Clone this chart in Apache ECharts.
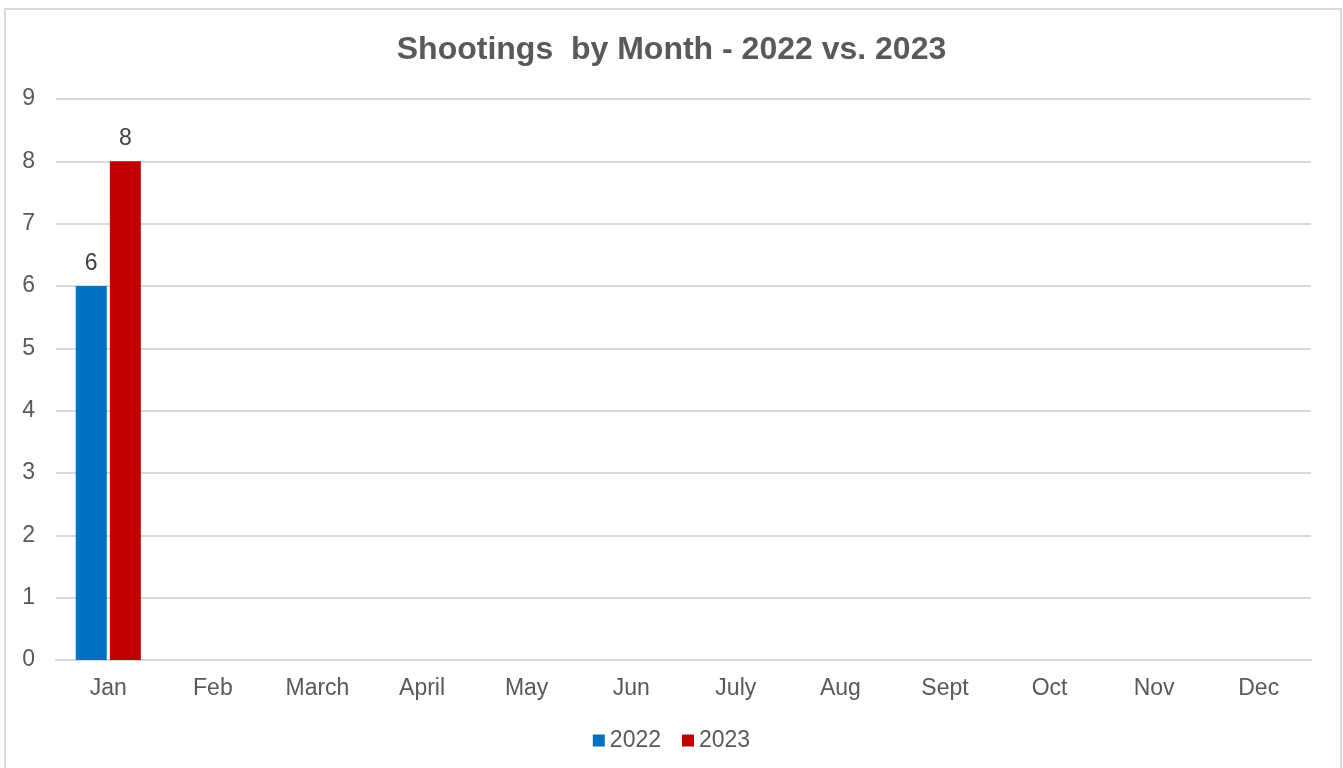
<!DOCTYPE html>
<html>
<head>
<meta charset="utf-8">
<script src="https://cdn.jsdelivr.net/npm/echarts@6/dist/echarts.min.js"></script>
<style>
  html, body { margin: 0; padding: 0; background: #fff; }
  #chart { width: 1343px; height: 768px; }
</style>
</head>
<body>
<div id="chart"></div>
<script>
// 月份和数据
var months = ['Jan', 'Feb', 'March', 'April', 'May', 'Jun', 'July', 'Aug', 'Sept', 'Oct', 'Nov', 'Dec'];
var data2022 = [6, null, null, null, null, null, null, null, null, null, null, null];
var data2023 = [8, null, null, null, null, null, null, null, null, null, null, null];
var yTicks = [0, 1, 2, 3, 4, 5, 6, 7, 8, 9];

var fontFamily = 'Arial, "Liberation Sans", sans-serif';

var option = {
  animation: false,
  textStyle: { fontFamily: fontFamily },
  title: {
    text: 'Shootings  by Month - 2022 vs. 2023',
    left: 'center',
    top: 29,
    textStyle: { fontSize: 32, fontWeight: 'bold', color: '#595959', fontFamily: fontFamily }
  },
  graphic: [{
    type: 'rect',
    shape: { x: 5, y: 9, width: 1336, height: 800 },
    style: { fill: 'none', stroke: '#d9d9d9', lineWidth: 2 },
    silent: true
  }],
  legend: {
    data: ['2022', '2023'],
    bottom: 11,
    left: 'center',
    itemWidth: 12,
    itemHeight: 12,
    itemGap: 21,
    icon: 'rect',
    textStyle: { fontSize: 23, color: '#595959', padding: [0, 0, 0, 0] }
  },
  grid: {
    left: 56,
    right: 32,
    top: 99,
    bottom: 108,
    containLabel: false
  },
  xAxis: {
    type: 'category',
    data: months,
    axisLine: { lineStyle: { color: '#d9d9d9', width: 2 } },
    axisTick: { show: false },
    axisLabel: { fontSize: 23, color: '#595959', margin: 17 }
  },
  yAxis: {
    type: 'value',
    min: yTicks[0],
    max: yTicks[yTicks.length - 1],
    interval: 1,
    axisLine: { show: false },
    axisTick: { show: false },
    axisLabel: { fontSize: 23, color: '#595959', margin: 21 },
    splitLine: { lineStyle: { color: '#d9d9d9', width: 2 } }
  },
  series: [{
    name: '2022',
    type: 'bar',
    data: data2022,
    itemStyle: { color: '#0070c0' },
    barWidth: 31,
    barGap: '10%',
    label: { show: true, position: 'top', distance: 11, fontSize: 23, color: '#404040' }
  }, {
    name: '2023',
    type: 'bar',
    data: data2023,
    itemStyle: { color: '#c00000' },
    barWidth: 31,
    barGap: '10%',
    label: { show: true, position: 'top', distance: 11, fontSize: 23, color: '#404040' }
  }]
};

var chart = echarts.init(document.getElementById('chart'));
chart.setOption(option);
</script>
</body>
</html>
